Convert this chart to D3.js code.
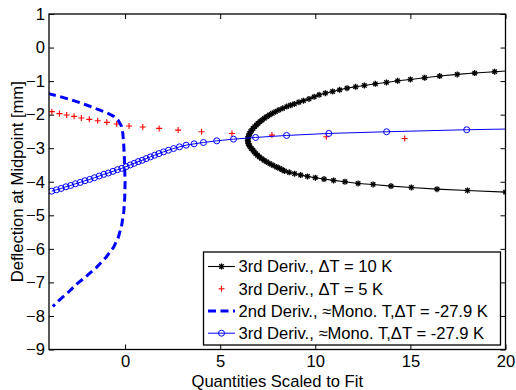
<!DOCTYPE html>
<html>
<head>
<meta charset="utf-8">
<script src="https://cdn.jsdelivr.net/npm/d3@7"></script>
<style>
  html, body { margin: 0; padding: 0; background: #fff; }
  svg { display: block; font-family: "Liberation Sans", Arial, Helvetica, sans-serif; }
</style>
</head>
<body>
<svg id="chart" width="516" height="390"></svg>
<script>
// 3rd derivative, ΔT = 10 K (asterisk markers, solid black line)
const derivX = [20.55, 19.43, 18.38, 17.46, 16.54, 15.75, 15.00, 14.33, 13.74, 13.16,
  12.58, 12.12, 11.67, 11.28, 10.91, 10.53, 10.20, 9.94, 9.67, 9.38,
  9.14, 8.90, 8.70, 8.50, 8.29, 8.09, 7.91, 7.74, 7.59, 7.45,
  7.32, 7.20, 7.09, 6.99, 6.90, 6.81, 6.73, 6.66, 6.60, 6.55,
  6.51, 6.48, 6.46, 6.45,
  6.46, 6.48, 6.52, 6.57, 6.64, 6.72, 6.79, 6.87, 6.96, 7.06,
  7.18, 7.31, 7.45, 7.61, 7.78, 7.96, 8.12, 8.25, 8.39, 8.63,
  8.91, 9.23, 9.59, 10.00, 10.46, 10.96, 11.56, 12.25, 13.04, 13.98,
  15.05, 16.40, 18.00, 20.00];
const derivY = [-0.68, -0.72, -0.76, -0.80, -0.85, -0.90, -0.95, -0.99, -1.04, -1.08,
  -1.13, -1.17, -1.21, -1.26, -1.31, -1.36, -1.41, -1.47, -1.53, -1.585,
  -1.63, -1.68, -1.72, -1.76, -1.81, -1.86, -1.91, -1.96, -2.01, -2.06,
  -2.11, -2.16, -2.21, -2.26, -2.31, -2.36, -2.41, -2.46, -2.51, -2.56,
  -2.61, -2.66, -2.71, -2.76,
  -2.81, -2.86, -2.91, -2.96, -3.01, -3.06, -3.11, -3.16, -3.21, -3.26,
  -3.31, -3.36, -3.41, -3.46, -3.51, -3.56, -3.60, -3.64, -3.68, -3.72,
  -3.76, -3.80, -3.84, -3.88, -3.92, -3.96, -4.00, -4.05, -4.08, -4.13,
  -4.17, -4.22, -4.26, -4.31];

// 3rd derivative, ΔT = 5 K (plus markers only)
const plusX = [-3.85, -3.45, -3.07, -2.68, -2.30, -1.88, -1.44, -0.96, -0.44, 0.21,
  0.93, 1.79, 2.79, 4.02, 5.62, 7.72, 10.58, 14.70];
const plusY = [-1.91, -1.97, -2.01, -2.05, -2.10, -2.14, -2.18, -2.23, -2.28, -2.34,
  -2.37, -2.41, -2.46, -2.51, -2.56, -2.61, -2.66, -2.71];

// 2nd derivative, approx. monotonic T (thick dashed blue)
const dashX = [-4.05, -3.50, -3.00, -2.50, -2.00, -1.50, -1.00, -0.60, -0.35, -0.20,
  -0.12, -0.07, -0.03, 0.00, -0.02, -0.07, -0.18, -0.35, -0.60, -1.00,
  -1.50, -2.00, -2.50, -3.00, -3.50, -3.80];
const dashY = [-1.37, -1.45, -1.53, -1.62, -1.72, -1.83, -1.93, -2.05, -2.18, -2.33,
  -2.55, -2.90, -3.40, -4.00, -4.50, -4.90, -5.30, -5.65, -5.95, -6.25,
  -6.55, -6.80, -7.03, -7.30, -7.55, -7.72];

// 3rd derivative, approx. monotonic T (circle markers, solid blue line)
const monoX = [-3.86, -3.61, -3.36, -3.11, -2.86, -2.61, -2.36, -2.11, -1.86, -1.61,
  -1.36, -1.12, -0.88, -0.64, -0.40, -0.17, 0.05, 0.27, 0.48, 0.69,
  0.90, 1.11, 1.33, 1.55, 1.78, 2.02, 2.28, 2.55, 2.86, 3.21,
  3.63, 4.12, 4.82, 5.70, 6.86, 8.49, 10.71, 13.75, 17.96, 23.80];
const monoY = [-4.28, -4.24, -4.20, -4.15, -4.11, -4.06, -4.02, -3.97, -3.93, -3.88,
  -3.83, -3.78, -3.74, -3.69, -3.64, -3.60, -3.55, -3.50, -3.45, -3.40,
  -3.36, -3.31, -3.26, -3.21, -3.16, -3.11, -3.06, -3.01, -2.96, -2.91,
  -2.87, -2.83, -2.78, -2.73, -2.68, -2.62, -2.56, -2.51, -2.45, -2.39];

const xTicks = [0, 5, 10, 15, 20];
const yTicks = [-9, -8, -7, -6, -5, -4, -3, -2, -1, 0, 1];
const legendLabels = [
  "3rd Deriv., \u0394T = 10 K",
  "3rd Deriv., \u0394T = 5 K",
  "2nd Deriv., \u2248Mono. T,\u0394T = -27.9 K",
  "3rd Deriv., \u2248Mono. T,\u0394T = -27.9 K"
];

const svg = d3.select("#chart");
const pL = 49, pR = 505.5, pT = 14, pB = 349.5;
const x = d3.scaleLinear().domain([-4, 20]).range([pL, pR]);
const y = d3.scaleLinear().domain([-9, 1]).range([pB, pT]);

svg.append("defs").append("clipPath").attr("id", "plotClip")
  .append("rect").attr("x", pL).attr("y", pT)
  .attr("width", pR - pL).attr("height", pB - pT);

const plot = svg.append("g").attr("clip-path", "url(#plotClip)");
const zip = (xs, ys) => xs.map((v, i) => [v, ys[i]]);
const line = d3.line().x(d => x(d[0])).y(d => y(d[1]));

function star(g, r) {
  g.append("line").attr("x1", -r).attr("x2", r).attr("y1", 0).attr("y2", 0);
  g.append("line").attr("x1", 0).attr("x2", 0).attr("y1", -r).attr("y2", r);
  const q = r * 0.72;
  g.append("line").attr("x1", -q).attr("x2", q).attr("y1", -q).attr("y2", q);
  g.append("line").attr("x1", -q).attr("x2", q).attr("y1", q).attr("y2", -q);
}
function plus(g, r) {
  g.append("line").attr("x1", -r).attr("x2", r).attr("y1", 0).attr("y2", 0);
  g.append("line").attr("x1", 0).attr("x2", 0).attr("y1", -r).attr("y2", r);
}

// black series
const derivPts = zip(derivX, derivY);
plot.append("path").attr("d", line(derivPts))
  .attr("fill", "none").attr("stroke", "#000").attr("stroke-width", 1.1);
derivPts.forEach(p => {
  const g = plot.append("g").attr("transform", `translate(${x(p[0])},${y(p[1])})`)
    .attr("stroke", "#000").attr("stroke-width", 1.35);
  star(g, 3);
});

// red plus markers
zip(plusX, plusY).forEach(p => {
  const g = plot.append("g").attr("transform", `translate(${x(p[0])},${y(p[1])})`)
    .attr("stroke", "#ff0000").attr("stroke-width", 1.1);
  plus(g, 3);
});

// dashed blue
plot.append("path").attr("d", line(zip(dashX, dashY)))
  .attr("fill", "none").attr("stroke", "#0000ff").attr("stroke-width", 3)
  .attr("stroke-dasharray", "8,4.5");

// blue line with circles
const monoPts = zip(monoX, monoY);
plot.append("path").attr("d", line(monoPts))
  .attr("fill", "none").attr("stroke", "#0000ff").attr("stroke-width", 1);
plot.selectAll("circle.mono").data(monoPts).enter().append("circle")
  .attr("class", "mono")
  .attr("cx", d => x(d[0])).attr("cy", d => y(d[1])).attr("r", 3)
  .attr("fill", "none").attr("stroke", "#0000ff").attr("stroke-width", 1);

// axes
const fs = 16.6;
const axB = svg.append("g").attr("transform", `translate(0,${pB})`)
  .call(d3.axisBottom(x).tickValues(xTicks).tickSizeInner(-5).tickSizeOuter(0).tickPadding(6));
const axT = svg.append("g").attr("transform", `translate(0,${pT})`)
  .call(d3.axisTop(x).tickValues(xTicks).tickSizeInner(-5).tickSizeOuter(0).tickFormat(""));
const axL = svg.append("g").attr("transform", `translate(${pL},0)`)
  .call(d3.axisLeft(y).tickValues(yTicks).tickSizeInner(-5).tickSizeOuter(0).tickPadding(4));
const axR = svg.append("g").attr("transform", `translate(${pR},0)`)
  .call(d3.axisRight(y).tickValues(yTicks).tickSizeInner(-5).tickSizeOuter(0).tickFormat(""));
[axB, axT, axL, axR].forEach(a => {
  a.select(".domain").remove();
  a.selectAll(".tick line").attr("stroke", "#000").attr("stroke-width", 1);
  a.selectAll("text").attr("font-size", fs).attr("fill", "#000")
    .attr("font-family", "Liberation Sans, Arial, sans-serif");
});
svg.append("rect").attr("x", pL).attr("y", pT)
  .attr("width", pR - pL).attr("height", pB - pT)
  .attr("fill", "none").attr("stroke", "#000").attr("stroke-width", 1.3);

// axis titles
svg.append("text").attr("x", (pL + pR) / 2).attr("y", 386.5)
  .attr("text-anchor", "middle").attr("font-size", fs).text("Quantities Scaled to Fit");
svg.append("text").attr("transform", `translate(23,${(pT + pB) / 2}) rotate(-90)`)
  .attr("text-anchor", "middle").attr("font-size", fs).text("Deflection at Midpoint [mm]");

// legend
const lg = svg.append("g");
const lx = 203.5, ly = 252, lw = 297, lh = 93;
lg.append("rect").attr("x", lx).attr("y", ly).attr("width", lw).attr("height", lh)
  .attr("fill", "#fff").attr("stroke", "#000").attr("stroke-width", 1.3);
const rowY = [266.5, 288.8, 311, 333.2];
const sx0 = 208, sx1 = 235, sxm = 221.5;
legendLabels.forEach((lab, i) => {
  const ry = rowY[i];
  if (i === 0) {
    lg.append("line").attr("x1", sx0).attr("x2", sx1).attr("y1", ry).attr("y2", ry)
      .attr("stroke", "#000").attr("stroke-width", 1.1);
    star(lg.append("g").attr("transform", `translate(${sxm},${ry})`)
      .attr("stroke", "#000").attr("stroke-width", 1.35), 3);
  } else if (i === 1) {
    plus(lg.append("g").attr("transform", `translate(${sxm},${ry})`)
      .attr("stroke", "#ff0000").attr("stroke-width", 1.1), 3);
  } else if (i === 2) {
    lg.append("line").attr("x1", sx0).attr("x2", sx1).attr("y1", ry).attr("y2", ry)
      .attr("stroke", "#0000ff").attr("stroke-width", 3).attr("stroke-dasharray", "8,4.5");
  } else {
    lg.append("line").attr("x1", sx0).attr("x2", sx1).attr("y1", ry).attr("y2", ry)
      .attr("stroke", "#0000ff").attr("stroke-width", 1);
    lg.append("circle").attr("cx", sxm).attr("cy", ry).attr("r", 3)
      .attr("fill", "none").attr("stroke", "#0000ff").attr("stroke-width", 1);
  }
  lg.append("text").attr("x", 238.5).attr("y", ry).attr("dy", "0.36em")
    .attr("font-size", fs).text(lab);
});
</script>
</body>
</html>
